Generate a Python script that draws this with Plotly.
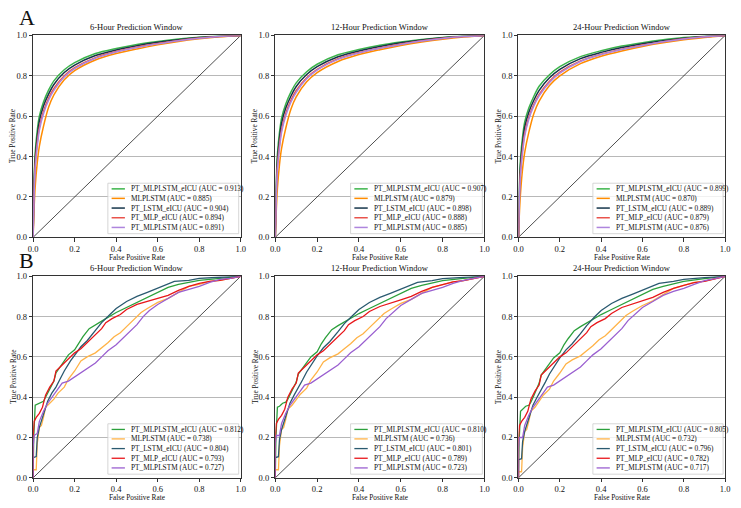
import plotly.graph_objects as go
from plotly.subplots import make_subplots

FONT = "Liberation Serif, Times New Roman, serif"
W, H = 741, 508

# ---------------- data ----------------
windows = ["6-Hour Prediction Window", "12-Hour Prediction Window", "24-Hour Prediction Window"]
models = ["PT_MLPLSTM_eICU", "MLPLSTM", "PT_LSTM_eICU", "PT_MLP_eICU", "PT_MLPLSTM"]

auc_A6 = [0.913, 0.885, 0.904, 0.894, 0.891]
auc_A12 = [0.907, 0.879, 0.898, 0.888, 0.885]
auc_A24 = [0.899, 0.870, 0.889, 0.879, 0.876]
auc_B6 = [0.812, 0.738, 0.804, 0.793, 0.727]
auc_B12 = [0.810, 0.736, 0.801, 0.789, 0.723]
auc_B24 = [0.805, 0.732, 0.796, 0.782, 0.717]

axis_ticks = [0.0, 0.2, 0.4, 0.6, 0.8, 1.0]
tick_labels = ["0.0", "0.2", "0.4", "0.6", "0.8", "1.0"]
chance_line = [0.0, 1.0]

# Panel A (smooth ROC curves), common FPR grid
fpr_A = [0, 0.005, 0.01, 0.02, 0.03, 0.05, 0.075, 0.1, 0.15, 0.2, 0.3, 0.4, 0.5, 0.6, 0.7, 0.8, 0.9, 1.0]

tpr_A6_pt_mlplstm_eicu = [0, 0.30, 0.42, 0.53, 0.60, 0.67, 0.73, 0.775, 0.83, 0.865, 0.91, 0.935, 0.955, 0.97, 0.982, 0.991, 0.997, 1]
tpr_A6_mlplstm = [0, 0.15, 0.25, 0.37, 0.45, 0.55, 0.645, 0.705, 0.78, 0.825, 0.878, 0.91, 0.933, 0.953, 0.97, 0.983, 0.993, 1]
tpr_A6_pt_lstm_eicu = [0, 0.27, 0.39, 0.50, 0.575, 0.65, 0.71, 0.757, 0.816, 0.853, 0.9, 0.928, 0.949, 0.966, 0.979, 0.989, 0.996, 1]
tpr_A6_pt_mlp_eicu = [0, 0.24, 0.36, 0.47, 0.545, 0.625, 0.69, 0.737, 0.8, 0.84, 0.89, 0.92, 0.942, 0.96, 0.975, 0.987, 0.995, 1]
tpr_A6_pt_mlplstm = [0, 0.22, 0.34, 0.45, 0.53, 0.612, 0.68, 0.728, 0.794, 0.835, 0.887, 0.918, 0.94, 0.958, 0.974, 0.986, 0.995, 1]

tpr_A12_pt_mlplstm_eicu = [0, 0.29, 0.41, 0.52, 0.59, 0.66, 0.72, 0.765, 0.82, 0.857, 0.904, 0.93, 0.951, 0.967, 0.98, 0.99, 0.997, 1]
tpr_A12_mlplstm = [0, 0.14, 0.24, 0.36, 0.44, 0.54, 0.635, 0.695, 0.77, 0.816, 0.871, 0.905, 0.929, 0.95, 0.967, 0.981, 0.992, 1]
tpr_A12_pt_lstm_eicu = [0, 0.26, 0.38, 0.49, 0.565, 0.64, 0.70, 0.747, 0.806, 0.845, 0.894, 0.923, 0.945, 0.963, 0.977, 0.988, 0.996, 1]
tpr_A12_pt_mlp_eicu = [0, 0.23, 0.35, 0.46, 0.535, 0.615, 0.68, 0.727, 0.79, 0.832, 0.884, 0.915, 0.938, 0.957, 0.973, 0.986, 0.994, 1]
tpr_A12_pt_mlplstm = [0, 0.21, 0.33, 0.44, 0.52, 0.602, 0.67, 0.718, 0.785, 0.828, 0.881, 0.913, 0.936, 0.955, 0.972, 0.985, 0.994, 1]

tpr_A24_pt_mlplstm_eicu = [0, 0.28, 0.39, 0.50, 0.57, 0.64, 0.70, 0.748, 0.805, 0.845, 0.895, 0.924, 0.947, 0.964, 0.978, 0.989, 0.996, 1]
tpr_A24_mlplstm = [0, 0.13, 0.22, 0.34, 0.42, 0.52, 0.615, 0.675, 0.752, 0.80, 0.86, 0.897, 0.923, 0.945, 0.963, 0.978, 0.99, 1]
tpr_A24_pt_lstm_eicu = [0, 0.25, 0.36, 0.47, 0.545, 0.62, 0.68, 0.728, 0.79, 0.832, 0.885, 0.916, 0.94, 0.959, 0.974, 0.986, 0.995, 1]
tpr_A24_pt_mlp_eicu = [0, 0.22, 0.33, 0.44, 0.515, 0.595, 0.66, 0.708, 0.773, 0.818, 0.874, 0.907, 0.932, 0.952, 0.969, 0.983, 0.993, 1]
tpr_A24_pt_mlplstm = [0, 0.20, 0.31, 0.42, 0.50, 0.585, 0.652, 0.70, 0.767, 0.813, 0.871, 0.905, 0.93, 0.95, 0.968, 0.982, 0.993, 1]

# Panel B (step-like ROC curves), FPR per model
fpr_B_pt_mlplstm_eicu = [0, 0.003, 0.01, 0.02, 0.035, 0.05, 0.06, 0.075, 0.09, 0.1, 0.11, 0.13, 0.15, 0.17, 0.2, 0.22, 0.24, 0.27, 0.3, 0.35, 0.4, 0.45, 0.5, 0.55, 0.6, 0.65, 0.7, 0.75, 0.8, 0.9, 1.0]
tpr_B6_pt_mlplstm_eicu = [0, 0.2, 0.36, 0.365, 0.375, 0.38, 0.40, 0.43, 0.46, 0.48, 0.52, 0.55, 0.58, 0.61, 0.635, 0.67, 0.70, 0.74, 0.76, 0.79, 0.82, 0.845, 0.87, 0.895, 0.92, 0.945, 0.96, 0.97, 0.98, 0.99, 1]
tpr_B12_pt_mlplstm_eicu = [0, 0.2, 0.35, 0.355, 0.37, 0.375, 0.39, 0.42, 0.455, 0.475, 0.515, 0.545, 0.575, 0.60, 0.625, 0.665, 0.695, 0.735, 0.755, 0.785, 0.815, 0.84, 0.865, 0.89, 0.915, 0.94, 0.955, 0.968, 0.978, 0.99, 1]
tpr_B24_pt_mlplstm_eicu = [0, 0.18, 0.33, 0.34, 0.355, 0.36, 0.375, 0.41, 0.445, 0.47, 0.51, 0.54, 0.57, 0.595, 0.62, 0.66, 0.69, 0.73, 0.75, 0.78, 0.81, 0.835, 0.86, 0.885, 0.91, 0.935, 0.95, 0.963, 0.975, 0.988, 1]

fpr_B_mlplstm = [0, 0, 0.015, 0.02, 0.03, 0.04, 0.05, 0.06, 0.08, 0.1, 0.12, 0.15, 0.17, 0.2, 0.23, 0.26, 0.3, 0.33, 0.36, 0.39, 0.42, 0.45, 0.48, 0.52, 0.55, 0.6, 0.65, 0.7, 0.75, 0.8, 0.85, 0.9, 0.95, 1]
tpr_B6_mlplstm = [0, 0.04, 0.04, 0.17, 0.25, 0.26, 0.3, 0.35, 0.37, 0.39, 0.42, 0.45, 0.49, 0.53, 0.58, 0.6, 0.62, 0.645, 0.67, 0.7, 0.72, 0.75, 0.78, 0.82, 0.84, 0.87, 0.89, 0.92, 0.95, 0.96, 0.975, 0.98, 0.99, 1]
tpr_B12_mlplstm = [0, 0.04, 0.04, 0.16, 0.24, 0.25, 0.29, 0.34, 0.36, 0.385, 0.415, 0.445, 0.485, 0.525, 0.575, 0.595, 0.615, 0.64, 0.665, 0.695, 0.715, 0.745, 0.775, 0.815, 0.835, 0.865, 0.885, 0.915, 0.945, 0.958, 0.972, 0.978, 0.99, 1]
tpr_B24_mlplstm = [0, 0.03, 0.03, 0.15, 0.23, 0.24, 0.28, 0.33, 0.35, 0.38, 0.41, 0.44, 0.48, 0.52, 0.565, 0.585, 0.605, 0.63, 0.655, 0.685, 0.705, 0.735, 0.765, 0.805, 0.825, 0.855, 0.878, 0.91, 0.94, 0.955, 0.97, 0.976, 0.988, 1]

fpr_B_pt_lstm_eicu = [0, 0, 0.015, 0.02, 0.03, 0.05, 0.07, 0.09, 0.11, 0.13, 0.15, 0.18, 0.2, 0.23, 0.26, 0.3, 0.33, 0.37, 0.4, 0.45, 0.5, 0.55, 0.6, 0.65, 0.68, 0.75, 0.8, 0.9, 1]
tpr_B6_pt_lstm_eicu = [0, 0.1, 0.105, 0.2, 0.25, 0.32, 0.38, 0.42, 0.45, 0.49, 0.53, 0.58, 0.61, 0.65, 0.68, 0.73, 0.77, 0.81, 0.84, 0.875, 0.9, 0.92, 0.94, 0.96, 0.975, 0.98, 0.99, 0.995, 1]
tpr_B12_pt_lstm_eicu = [0, 0.1, 0.105, 0.19, 0.24, 0.31, 0.37, 0.41, 0.445, 0.485, 0.525, 0.575, 0.605, 0.645, 0.675, 0.725, 0.765, 0.805, 0.835, 0.87, 0.895, 0.915, 0.935, 0.955, 0.97, 0.978, 0.988, 0.994, 1]
tpr_B24_pt_lstm_eicu = [0, 0.09, 0.095, 0.18, 0.23, 0.3, 0.36, 0.40, 0.435, 0.475, 0.515, 0.565, 0.595, 0.635, 0.665, 0.715, 0.755, 0.8, 0.83, 0.865, 0.89, 0.91, 0.93, 0.95, 0.965, 0.975, 0.985, 0.993, 1]

fpr_B_pt_mlp_eicu = [0, 0, 0.005, 0.015, 0.03, 0.045, 0.06, 0.08, 0.1, 0.11, 0.13, 0.15, 0.18, 0.2, 0.23, 0.26, 0.3, 0.33, 0.35, 0.38, 0.42, 0.45, 0.5, 0.55, 0.6, 0.65, 0.7, 0.75, 0.8, 0.85, 0.9, 0.95, 1]
tpr_B6_pt_mlp_eicu = [0, 0.2, 0.28, 0.3, 0.32, 0.35, 0.41, 0.45, 0.48, 0.53, 0.55, 0.57, 0.6, 0.62, 0.64, 0.67, 0.71, 0.74, 0.77, 0.79, 0.81, 0.835, 0.86, 0.875, 0.89, 0.905, 0.93, 0.95, 0.965, 0.975, 0.98, 0.99, 1]
tpr_B12_pt_mlp_eicu = [0, 0.2, 0.27, 0.29, 0.31, 0.34, 0.40, 0.44, 0.47, 0.52, 0.54, 0.56, 0.59, 0.61, 0.63, 0.66, 0.70, 0.73, 0.76, 0.78, 0.80, 0.825, 0.85, 0.868, 0.883, 0.9, 0.925, 0.945, 0.96, 0.972, 0.978, 0.99, 1]
tpr_B24_pt_mlp_eicu = [0, 0.2, 0.26, 0.28, 0.3, 0.33, 0.39, 0.43, 0.46, 0.51, 0.53, 0.55, 0.58, 0.60, 0.62, 0.65, 0.69, 0.72, 0.75, 0.77, 0.79, 0.815, 0.845, 0.862, 0.878, 0.895, 0.92, 0.94, 0.955, 0.968, 0.975, 0.988, 1]

fpr_B_pt_mlplstm = [0, 0, 0.005, 0.02, 0.03, 0.05, 0.07, 0.09, 0.12, 0.14, 0.17, 0.2, 0.23, 0.27, 0.3, 0.33, 0.36, 0.4, 0.43, 0.46, 0.5, 0.53, 0.56, 0.6, 0.65, 0.7, 0.75, 0.8, 0.85, 0.9, 0.95, 1]
tpr_B6_pt_mlplstm = [0, 0.15, 0.21, 0.22, 0.28, 0.33, 0.37, 0.4, 0.44, 0.47, 0.48, 0.5, 0.52, 0.55, 0.57, 0.6, 0.63, 0.66, 0.69, 0.72, 0.76, 0.8, 0.83, 0.86, 0.89, 0.92, 0.935, 0.95, 0.97, 0.985, 0.99, 1]
tpr_B12_pt_mlplstm = [0, 0.17, 0.21, 0.21, 0.27, 0.32, 0.36, 0.39, 0.43, 0.46, 0.47, 0.49, 0.51, 0.54, 0.56, 0.59, 0.62, 0.65, 0.68, 0.71, 0.75, 0.79, 0.82, 0.855, 0.885, 0.915, 0.93, 0.945, 0.965, 0.98, 0.99, 1]
tpr_B24_pt_mlplstm = [0, 0.15, 0.2, 0.2, 0.26, 0.31, 0.35, 0.38, 0.42, 0.45, 0.46, 0.48, 0.50, 0.53, 0.55, 0.58, 0.61, 0.64, 0.67, 0.70, 0.74, 0.78, 0.81, 0.845, 0.875, 0.905, 0.925, 0.94, 0.96, 0.978, 0.988, 1]

# ---------------- styling ----------------
colors_A = ["#3cb44b", "#ff8c00", "#15354a", "#e9534c", "#ae85dd"]
colors_B = ["#2ca03c", "#ffb347", "#2a5a70", "#e8161a", "#9a5fd0"]
width_A = 1.5
width_B = 1.3

x_domains = [(28.5 / W, 239 / W), (274 / W, 486 / W), (520.5 / W, 730 / W)]
y_domains = [(1 - 237 / H, 1 - 31 / H), (1 - 482.3 / H, 1 - 276.7 / H)]

panels = [
    (0, 0, windows[0], [fpr_A] * 5,
     [tpr_A6_pt_mlplstm_eicu, tpr_A6_mlplstm, tpr_A6_pt_lstm_eicu, tpr_A6_pt_mlp_eicu, tpr_A6_pt_mlplstm],
     auc_A6, colors_A, width_A, True),
    (0, 1, windows[1], [fpr_A] * 5,
     [tpr_A12_pt_mlplstm_eicu, tpr_A12_mlplstm, tpr_A12_pt_lstm_eicu, tpr_A12_pt_mlp_eicu, tpr_A12_pt_mlplstm],
     auc_A12, colors_A, width_A, True),
    (0, 2, windows[2], [fpr_A] * 5,
     [tpr_A24_pt_mlplstm_eicu, tpr_A24_mlplstm, tpr_A24_pt_lstm_eicu, tpr_A24_pt_mlp_eicu, tpr_A24_pt_mlplstm],
     auc_A24, colors_A, width_A, True),
]
fprs_B = [fpr_B_pt_mlplstm_eicu, fpr_B_mlplstm, fpr_B_pt_lstm_eicu, fpr_B_pt_mlp_eicu, fpr_B_pt_mlplstm]
panels += [
    (1, 0, windows[0], fprs_B,
     [tpr_B6_pt_mlplstm_eicu, tpr_B6_mlplstm, tpr_B6_pt_lstm_eicu, tpr_B6_pt_mlp_eicu, tpr_B6_pt_mlplstm],
     auc_B6, colors_B, width_B, False),
    (1, 1, windows[1], fprs_B,
     [tpr_B12_pt_mlplstm_eicu, tpr_B12_mlplstm, tpr_B12_pt_lstm_eicu, tpr_B12_pt_mlp_eicu, tpr_B12_pt_mlplstm],
     auc_B12, colors_B, width_B, False),
    (1, 2, windows[2], fprs_B,
     [tpr_B24_pt_mlplstm_eicu, tpr_B24_mlplstm, tpr_B24_pt_lstm_eicu, tpr_B24_pt_mlp_eicu, tpr_B24_pt_mlplstm],
     auc_B24, colors_B, width_B, False),
]

fig = make_subplots(rows=2, cols=3)

legend_rows = [0.240, 0.193, 0.145, 0.097, 0.049]
shapes = []
annotations = []
TXT = "#111111"

for (r, c, title, fprs, tprs, aucs, cols, lw, smooth) in panels:
    n = r * 3 + c + 1
    xs = "" if n == 1 else str(n)
    xdom = f"x{xs} domain"
    ydom = f"y{xs} domain"

    fig.add_trace(go.Scatter(x=chance_line, y=chance_line, mode="lines",
                             line=dict(color="black", width=0.7),
                             showlegend=False, hoverinfo="skip"), row=r + 1, col=c + 1)
    for i in range(5):
        fig.add_trace(go.Scatter(
            x=fprs[i], y=tprs[i], mode="lines",
            line=dict(color=cols[i], width=lw, shape="spline" if smooth else "linear",
                      smoothing=0.8 if smooth else None),
            name=f"{models[i]} (AUC = {aucs[i]:.3f})", showlegend=False),
            row=r + 1, col=c + 1)

    ax_common = dict(range=[0, 1], tickvals=axis_ticks, ticktext=tick_labels,
                     showline=True, mirror=True, linecolor="#333333", linewidth=0.8,
                     ticks="outside", ticklen=3.5, tickwidth=0.8, tickcolor="#333333",
                     tickfont=dict(family=FONT, size=8.5, color=TXT),
                     zeroline=False)
    fig.update_xaxes(domain=list(x_domains[c]), showgrid=False, **ax_common, row=r + 1, col=c + 1)
    fig.update_yaxes(domain=list(y_domains[r]), showgrid=True, gridcolor="#b8b8b8", gridwidth=1,
                     **ax_common, row=r + 1, col=c + 1)

    # subplot title
    annotations.append(dict(text=title, xref=xdom, yref=ydom, x=0.5, y=1, xanchor="center",
                            yanchor="bottom", yshift=1.5, showarrow=False,
                            font=dict(family=FONT, size=8.5, color=TXT)))
    # axis titles
    annotations.append(dict(text="False Positive Rate", xref=xdom, yref=ydom, x=0.5, y=0,
                            xanchor="center", yanchor="top", yshift=-13.5, showarrow=False,
                            font=dict(family=FONT, size=7.3, color=TXT)))
    annotations.append(dict(text="True Positive Rate", xref=xdom, yref=ydom, x=0, y=0.5,
                            xanchor="center", yanchor="middle", xshift=-20.5, textangle=-90,
                            showarrow=False, font=dict(family=FONT, size=7.3, color=TXT)))

    # legend box
    shapes.append(dict(type="rect", xref=xdom, yref=ydom, x0=0.36, x1=0.99, y0=0.018, y1=0.268,
                       fillcolor="rgba(255,255,255,0.8)", line=dict(color="#cccccc", width=0.8),
                       layer="above"))
    for i in range(5):
        shapes.append(dict(type="line", xref=xdom, yref=ydom, x0=0.378, x1=0.442,
                           y0=legend_rows[i], y1=legend_rows[i],
                           line=dict(color=cols[i], width=lw), layer="above"))
        annotations.append(dict(text=f"{models[i]} (AUC = {aucs[i]:.3f})", xref=xdom, yref=ydom,
                                x=0.462, y=legend_rows[i], xanchor="left", yanchor="middle",
                                showarrow=False,
                                font=dict(family=FONT, size=7.3, color=TXT)))

# panel letters
annotations.append(dict(text="A", xref="paper", yref="paper", x=12 / W, y=1 - 13 / H,
                        xanchor="left", yanchor="middle", showarrow=False,
                        font=dict(family=FONT, size=22, color=TXT)))
annotations.append(dict(text="B", xref="paper", yref="paper", x=12 / W, y=1 - 261 / H,
                        xanchor="left", yanchor="middle", showarrow=False,
                        font=dict(family=FONT, size=22, color=TXT)))

fig.update_layout(width=W, height=H, margin=dict(l=0, r=0, t=0, b=0),
                  paper_bgcolor="white", plot_bgcolor="white",
                  showlegend=False, shapes=shapes, annotations=annotations,
                  font=dict(family=FONT))

fig.write_html("out.html")
